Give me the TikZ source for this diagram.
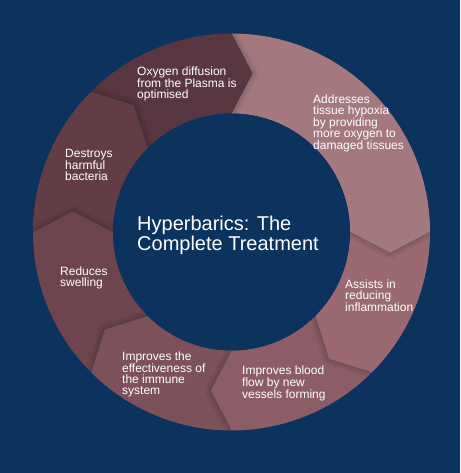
\documentclass[tikz,border=0pt]{standalone}
\usepackage{fontspec}
\setmainfont{Liberation Sans}
\definecolor{bgnavy}{RGB}{12,50,94}
\definecolor{cOxy}{RGB}{89,55,64}
\definecolor{cDes}{RGB}{99,61,70}
\definecolor{cRed}{RGB}{110,69,79}
\definecolor{cEff}{RGB}{125,81,90}
\definecolor{cBlo}{RGB}{141,93,103}
\definecolor{cAss}{RGB}{154,105,113}
\definecolor{cAdd}{RGB}{163,121,127}
\tikzset{
  seg/.style 2 args={insert path={(#1:198.5pt) arc[start angle=#1, end angle=#2, radius=198.5pt] -- ({#2-7.5}:160pt) -- (#2:118.5pt) arc[start angle=#2, end angle=#1, radius=118.5pt] -- ({#1-7.5}:160pt) -- cycle}},
  tipline/.style={insert path={(#1:198.5pt) -- ({#1-7.5}:160pt) -- (#1:118.5pt)}},
  shade1/.style={draw=black, draw opacity=0.045, line join=round},
  lbl/.style={anchor=north west, inner sep=0pt, align=left, text=white, font=\fontsize{12}{11}\selectfont},
  ttl/.style={anchor=north west, inner sep=0pt, align=left, text=white, font=\fontsize{20}{20}\selectfont}
}
\begin{document}
\begin{tikzpicture}[x=1pt,y=1pt]
\fill[bgnavy] (-231.5,-241) rectangle (228.5,232);
\useasboundingbox (-231.5,-241) rectangle (228.5,232);
% ring segments
\fill[cAdd, seg={90}{0}];
\fill[cAss, seg={0}{-45}];
\fill[cBlo, seg={-45}{-90}];
\fill[cEff, seg={-90}{-135}];
\fill[cRed, seg={-135}{-180}];
\fill[cDes, seg={-180}{-225}];
\fill[cOxy, seg={-225}{-270}];
% soft shadows cast by each tip on the next segment
\foreach \b/\e in {0/-45,-45/-90,-90/-135,-135/-180,-180/-225,-225/-270,-270/-360}{
  \begin{scope}
    \clip[seg={\b}{\e}];
    \path[shade1, line width=12pt, tipline=\b];
    \path[shade1, line width=8pt, tipline=\b];
    \path[shade1, line width=4pt, tipline=\b];
  \end{scope}
}
\fill[bgnavy] (0,0) circle[radius=118.5pt];
% labels
\node[ttl] (title) at (-94.5,16.4) {Hyperbarics: The\\Complete Treatment};
\node[lbl] (oxy) at (-94.5,165.1) {Oxygen diffusion\\from the Plasma is\\optimised};
\node[lbl] (add) at (81.5,137.6) {Addresses\\tissue hypoxia\\by providing\\more oxygen to\\damaged tissues};
\node[lbl] (des) at (-166.5,83.3) {Destroys\\harmful\\bacteria};
\node[lbl] (red) at (-171.5,-34.4) {Reduces\\swelling};
\node[lbl] (eff) at (-109.5,-119.4) {Improves the\\effectiveness of\\the immune\\system};
\node[lbl] (blo) at (10.5,-133.4) {Improves blood\\flow by new\\vessels forming};
\node[lbl] (ass) at (113.5,-47.4) {Assists in\\reducing\\inflammation};
\end{tikzpicture}
\end{document}
